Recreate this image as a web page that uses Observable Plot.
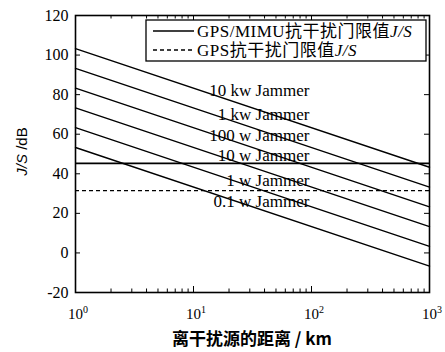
<!DOCTYPE html>
<html>
<head>
<meta charset="utf-8">
<script src="https://cdn.jsdelivr.net/npm/d3@7"></script>
<script src="https://cdn.jsdelivr.net/npm/@observablehq/plot@0.6"></script>
<style>
  body { margin: 0; background: #fff; }
  svg { display: block; }
</style>
</head>
<body>
<div id="chart"></div>
<script>
// Jammer power levels and their J/S (dB) at the near and far ends of the range
const jammers = ["10 kw Jammer", "1 kw Jammer", "100 w Jammer", "10 w Jammer", "1 w Jammer", "0.1 w Jammer"];
const distanceKm = [1, 1000];
const jsNear = [103.3, 93.3, 83.3, 73.3, 63.3, 53.3];
const jsFar = [43.3, 33.3, 23.3, 13.3, 3.3, -6.7];

// Anti-jamming thresholds (dB)
const thresholdMimu = 45.3;
const thresholdGps = 31.5;

// Where each jammer label sits (distance in km, J/S in dB)
const labelKm = 96;
const labelDb = [82, 70, 59.5, 49, 36.5, 26];

// Axis ticks
const majorX = [1, 10, 100, 1000];
const minorX = [2, 3, 4, 5, 6, 7, 8, 9, 20, 30, 40, 50, 60, 70, 80, 90, 200, 300, 400, 500, 600, 700, 800, 900];
const yTicks = [-20, 0, 20, 40, 60, 80, 100, 120];

const rows = jammers.flatMap((name, i) => [
  {name, d: distanceKm[0], js: jsNear[i]},
  {name, d: distanceKm[1], js: jsFar[i]}
]);

const W = 445, H = 352;
const mL = 75, mR = 16, mT = 15, mB = 60;
const plotW = W - mL - mR, plotH = H - mT - mB;
const serif = '"Liberation Serif", "Times New Roman", "Noto Sans CJK SC", serif';

const chart = Plot.plot({
  width: W,
  height: H,
  marginLeft: mL,
  marginRight: mR,
  marginTop: mT,
  marginBottom: mB,
  style: {fontFamily: serif, fontSize: "15px", color: "#000", background: "#fff"},
  x: {type: "log", domain: [1, 1000], axis: null},
  y: {domain: [-20, 120], axis: null},
  marks: [
    Plot.line(rows, {x: "d", y: "js", z: "name", stroke: "#000", strokeWidth: 1.4}),
    Plot.ruleY([thresholdMimu], {stroke: "#000", strokeWidth: 1.7}),
    Plot.ruleY([thresholdGps], {stroke: "#000", strokeWidth: 1.3, strokeDasharray: "4,3"}),
    Plot.text(jammers, {
      x: () => labelKm,
      y: (d, i) => labelDb[i],
      text: d => d,
      textAnchor: "end",
      fontSize: 17,
      fontFamily: serif,
      fill: "#000"
    }),
    // inward ticks on all four sides
    Plot.ruleX(majorX, {insetTop: plotH - 6, stroke: "#000"}),
    Plot.ruleX(majorX, {insetBottom: plotH - 6, stroke: "#000"}),
    Plot.ruleX(minorX, {insetTop: plotH - 3.5, stroke: "#000"}),
    Plot.ruleX(minorX, {insetBottom: plotH - 3.5, stroke: "#000"}),
    Plot.ruleY(yTicks, {insetRight: plotW - 5, stroke: "#000"}),
    Plot.ruleY(yTicks, {insetLeft: plotW - 5, stroke: "#000"}),
    // y tick labels
    Plot.text(yTicks, {
      y: d => d,
      text: d => String(d),
      frameAnchor: "left",
      dx: -7,
      textAnchor: "end",
      fontSize: 16,
      fontFamily: serif,
      fill: "#000"
    }),
    Plot.frame({stroke: "#000", strokeWidth: 1.6})
  ]
});

document.getElementById("chart").append(chart);

const svg = d3.select(chart);
const x = chart.scale("x");

// x tick labels as powers of ten
const xl = svg.append("g").attr("font-family", serif).attr("fill", "#000");
majorX.forEach(v => {
  const t = xl.append("text")
    .attr("x", x.apply(v) + 3)
    .attr("y", H - mB + 27)
    .attr("text-anchor", "middle")
    .attr("font-size", 15);
  t.append("tspan").text("10");
  t.append("tspan").attr("dy", -6).attr("font-size", 10).text(Math.round(Math.log10(v)));
});

// axis titles
svg.append("text")
  .attr("x", mL + plotW / 2)
  .attr("y", H - 7)
  .attr("text-anchor", "middle")
  .attr("font-family", '"Noto Sans CJK SC", sans-serif')
  .attr("font-weight", "bold")
  .attr("font-size", 17)
  .attr("fill", "#000")
  .text("离干扰源的距离 / km");

const yt = svg.append("text")
  .attr("transform", `translate(27,${mT + plotH / 2 - 2}) rotate(-90)`)
  .attr("text-anchor", "middle")
  .attr("font-family", '"Liberation Sans", Arial, sans-serif')
  .attr("font-size", 15)
  .attr("fill", "#000");
yt.append("tspan").attr("font-style", "italic").text("J/S");
yt.append("tspan").text(" /dB");

// legend
const lg = svg.append("g")
  .attr("font-family", serif)
  .attr("font-size", 17)
  .attr("text-anchor", "start")
  .attr("fill", "#000");
lg.append("rect").attr("x", 146).attr("y", 20).attr("width", 280).attr("height", 41)
  .attr("fill", "#fff").attr("stroke", "#000").attr("stroke-width", 1.3);
const items = [
  {label: "GPS/MIMU抗干扰门限值", dash: null, sw: 1.6},
  {label: "GPS抗干扰门限值", dash: "4,3", sw: 1.3}
];
items.forEach((it, i) => {
  const yy = 31 + i * 19;
  lg.append("line").attr("x1", 153).attr("x2", 194).attr("y1", yy).attr("y2", yy)
    .attr("stroke", "#000").attr("stroke-width", it.sw).attr("stroke-dasharray", it.dash);
  const t = lg.append("text").attr("x", 197).attr("y", yy + 6).attr("letter-spacing", 0.5);
  t.append("tspan").text(it.label);
  t.append("tspan").attr("font-style", "italic").text("J/S");
});
</script>
</body>
</html>
